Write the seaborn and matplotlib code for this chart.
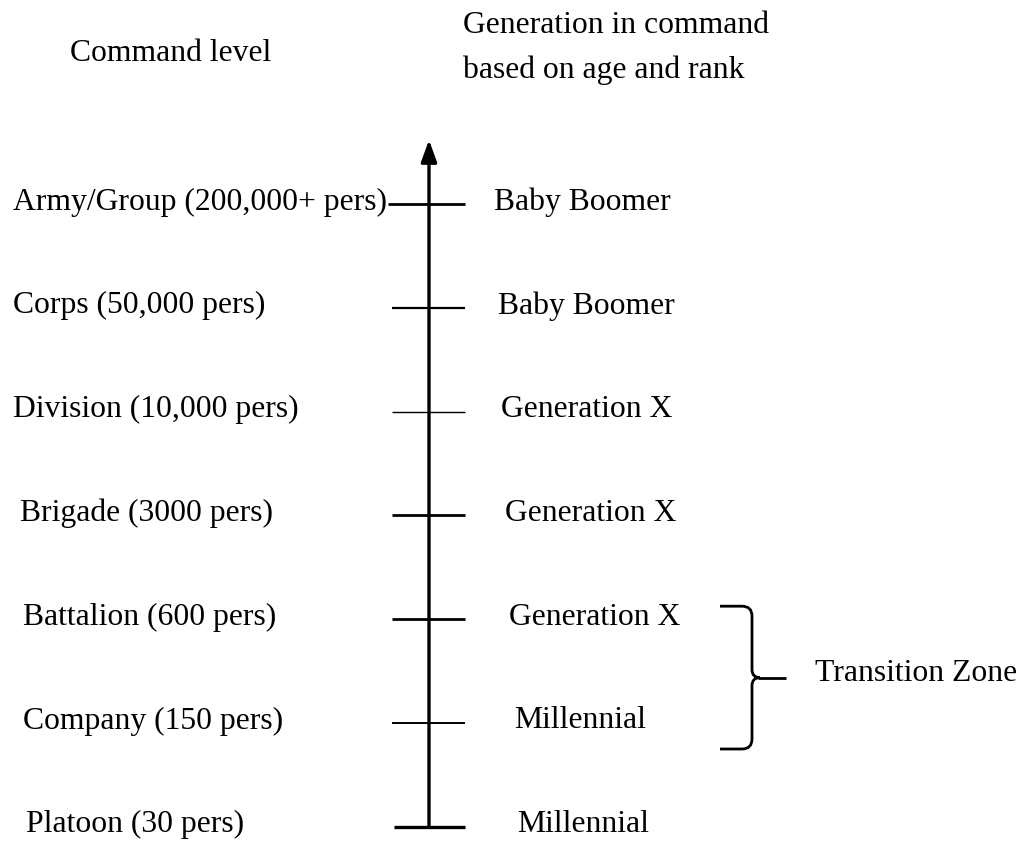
import matplotlib
matplotlib.use("Agg")
import matplotlib.pyplot as plt
from matplotlib.path import Path
from matplotlib.patches import PathPatch
import seaborn as sns

# command levels from top to bottom, and the generation that holds each
levels = ['Army/Group (200,000+ pers)', 'Corps (50,000 pers)', 'Division (10,000 pers)',
          'Brigade (3000 pers)', 'Battalion (600 pers)', 'Company (150 pers)', 'Platoon (30 pers)']
generations = ['Baby Boomer', 'Baby Boomer', 'Generation X', 'Generation X',
               'Generation X', 'Millennial', 'Millennial']
transition_rows = ['Battalion (600 pers)', 'Company (150 pers)']

sns.set_theme(style='white')
plt.rcParams['font.family'] = ['Liberation Serif', 'DejaVu Serif']
plt.rcParams['text.color'] = 'black'

W, H = 1022, 841
fig = plt.figure(figsize=(W / 100, H / 100), dpi=100)
ax = fig.add_axes([0, 0, 1, 1])
ax.set_xlim(0, W)
ax.set_ylim(H, 0)
ax.axis('off')

# layout (pixels)
top, step = 204, 103.8
axis_x = 429
left_x = [13, 13, 13, 20, 23, 23, 26]
right_x = [494, 498, 501, 505, 509, 514, 517]
tick_left = [388, 392, 392, 392, 392, 392, 394]
tick_lw = [2.0, 1.6, 1.0, 2.0, 2.0, 1.4, 2.4]
fs = 22.8

rows_y = [top + i * step for i in range(len(levels))]

# vertical axis with arrow
ax.annotate('', xy=(axis_x, 140), xytext=(axis_x, rows_y[-1]),
            arrowprops=dict(arrowstyle='-|>,head_length=1.1,head_width=0.4',
                            lw=2.4, color='black', shrinkA=0, shrinkB=0))

for i, (lev, gen) in enumerate(zip(levels, generations)):
    y = rows_y[i]
    ax.hlines(y, tick_left[i], 465, color='black', lw=tick_lw[i])
    ax.text(left_x[i], y - 2, lev, fontsize=fs, va='center', ha='left')
    ax.text(right_x[i], y - 2, gen, fontsize=fs, va='center', ha='left')

# headers
ax.text(70, 53, 'Command level', fontsize=fs, va='center', ha='left')
ax.text(463, 25, 'Generation in command', fontsize=fs, va='center', ha='left')
ax.text(463, 70, 'based on age and rank', fontsize=fs, va='center', ha='left')

# brace for the transition zone
i0 = levels.index(transition_rows[0])
i1 = levels.index(transition_rows[1])
y0, y1 = rows_y[i0] - 13, rows_y[i1] + 26
ym = (y0 + y1) / 2
xl, xb, xs = 720, 752, 786
verts = [(xl, y0), (xb - 10, y0), (xb, y0), (xb, y0 + 10),
         (xb, ym - 8), (xb, ym), (xb + 8, ym),
         (xb, ym), (xb, ym + 8),
         (xb, y1 - 10), (xb, y1), (xb - 10, y1), (xl, y1)]
codes = [Path.MOVETO, Path.LINETO, Path.CURVE3, Path.CURVE3,
         Path.LINETO, Path.CURVE3, Path.CURVE3,
         Path.CURVE3, Path.CURVE3,
         Path.LINETO, Path.CURVE3, Path.CURVE3, Path.LINETO]
ax.add_patch(PathPatch(Path(verts, codes), fill=False, lw=2.0, color='black'))
ax.hlines(ym, xb + 6, xs, color='black', lw=2.0)
ax.text(815, ym - 4, 'Transition Zone', fontsize=fs, va='center', ha='left')

fig.savefig('out.png', dpi=100, facecolor='white')
